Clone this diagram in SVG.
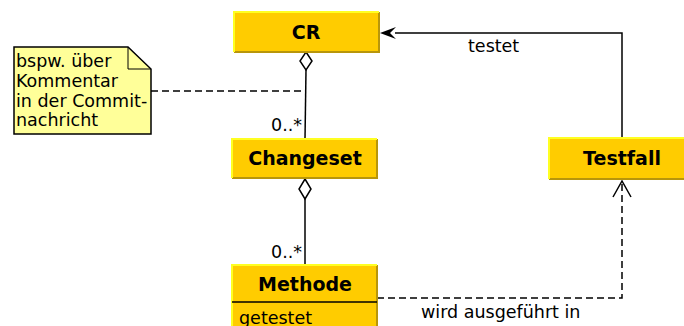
<svg xmlns="http://www.w3.org/2000/svg" width="684" height="326" viewBox="0 0 684 326">
<style>
.box{fill:#ffcc00}
.hl{stroke:#ffff22;stroke-width:2;fill:none}
.sh{stroke:#b8960b;stroke-width:2;fill:none}
.t{font-family:"DejaVu Sans",sans-serif;font-weight:bold;font-size:19px;text-anchor:middle;fill:#000}
.l{font-family:"DejaVu Sans",sans-serif;font-size:17.5px;fill:#000}
.ln{stroke:#000;stroke-width:1.5;fill:none}
.dl{stroke:#000;stroke-width:1.5;fill:none;stroke-dasharray:7,4}
</style>
<g id="connectors">
<path class="ln" d="M622,138 V33 H395"/>
<path d="M380,33 L396,27 L390,33 L396,39 Z" fill="#000"/>
<path class="ln" d="M306,70 L305,139"/>
<path d="M306,52 L312,61 L306,70 L300,61 Z" fill="#fff" stroke="#000" stroke-width="1.5"/>
<path class="ln" d="M305,199 V265"/>
<path d="M305,179 L311,189 L305,199 L299,189 Z" fill="#fff" stroke="#000" stroke-width="1.5"/>
<path class="dl" d="M377,298 H622 V181"/>
<path class="ln" d="M613,197 L622,181 L631,197"/>
<path class="dl" d="M151,91 H305"/>
<text class="l" x="468" y="52">testet</text>
<text class="l" x="421" y="318">wird ausgeführt in</text>
<text class="l" x="271" y="131">0..*</text>
<text class="l" x="271" y="258">0..*</text>
</g>
<g id="note">
<path d="M14,47 H128 L151,69 V134 H14 Z" fill="#ffff99" stroke="#000" stroke-width="1.5"/>
<path d="M128,47 V69 H151" fill="none" stroke="#000" stroke-width="1"/>
<text class="l" x="16" y="67">bspw. über</text>
<text class="l" x="16" y="87">Kommentar</text>
<text class="l" x="16" y="107">in der Commit-</text>
<text class="l" x="16" y="126">nachricht</text>
</g>
<g id="CR">
<rect class="box" x="234" y="12" width="145" height="40"/>
<path class="sh" d="M379,12 V52 H234"/>
<path class="hl" d="M234,52 V12 H379"/>
<text class="t" x="306" y="39">CR</text>
</g>
<g id="Changeset">
<rect class="box" x="232" y="139" width="145" height="39"/>
<path class="sh" d="M377,139 V178 H232"/>
<path class="hl" d="M232,178 V139 H377"/>
<text class="t" x="305" y="165">Changeset</text>
</g>
<g id="Testfall">
<rect class="box" x="549" y="138" width="146" height="41"/>
<path class="sh" d="M695,138 V179 H549"/>
<path class="hl" d="M549,179 V138 H695"/>
<text class="t" x="622" y="165">Testfall</text>
</g>
<g id="Methode">
<rect class="box" x="232" y="265" width="145" height="70"/>
<path class="sh" d="M377,265 V335"/>
<path class="hl" d="M232,335 V265 H377"/>
<line x1="232" y1="302" x2="377" y2="302" stroke="#000" stroke-width="1.5"/>
<text class="t" x="305" y="291">Methode</text>
<text class="l" x="239" y="324">getestet</text>
</g>
</svg>
